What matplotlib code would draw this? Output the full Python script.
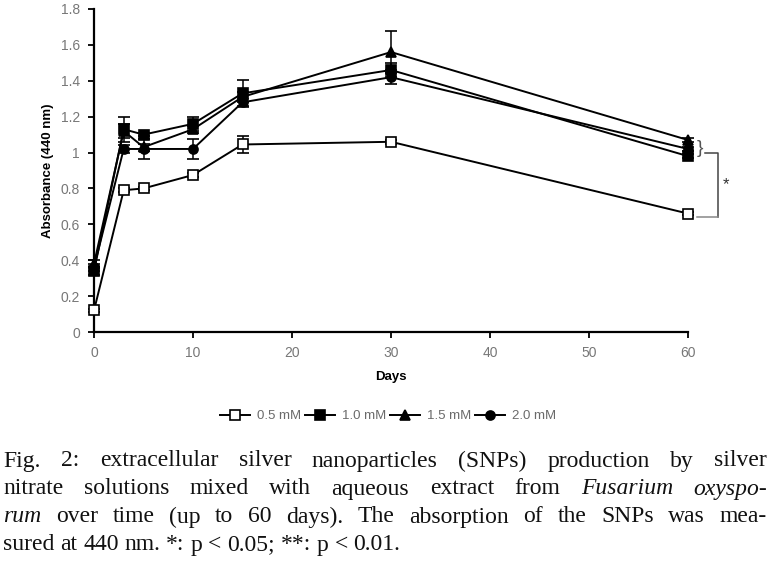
import matplotlib
matplotlib.use("Agg")
import matplotlib.pyplot as plt
from matplotlib.lines import Line2D
from matplotlib.ticker import FuncFormatter

days = [0, 3, 5, 10, 15, 30, 60]

abs_05 = [0.12, 0.79, 0.80, 0.875, 1.045, 1.06, 0.66]
err_05 = [0.01, 0.01, 0.01, 0.01, 0.05, 0.01, 0.01]

abs_10 = [0.34, 1.13, 1.10, 1.16, 1.33, 1.46, 0.98]
err_10 = [0.02, 0.07, 0.01, 0.04, 0.075, 0.04, 0.01]

abs_15 = [0.38, 1.12, 1.03, 1.13, 1.31, 1.56, 1.07]
err_15 = [0.02, 0.04, 0.02, 0.02, 0.03, 0.115, 0.01]

abs_20 = [0.36, 1.02, 1.02, 1.02, 1.28, 1.42, 1.02]
err_20 = [0.02, 0.02, 0.055, 0.055, 0.02, 0.04, 0.01]

labels = ["0.5 mM", "1.0 mM", "1.5 mM", "2.0 mM"]

caption_lines = [
    [("Fig.", False), ("2:", False), ("extracellular", False), ("silver", False),
     ("nanoparticles", False), ("(SNPs)", False), ("production", False),
     ("by", False), ("silver", False)],
    [("nitrate", False), ("solutions", False), ("mixed", False), ("with", False),
     ("aqueous", False), ("extract", False), ("from", False),
     ("Fusarium", True), ("oxyspo-", True)],
    [("rum", True), ("over", False), ("time", False), ("(up", False), ("to", False),
     ("60", False), ("days).", False), ("The", False), ("absorption", False),
     ("of", False), ("the", False), ("SNPs", False), ("was", False), ("mea-", False)],
    [("sured", False), ("at", False), ("440", False), ("nm.", False), ("*:", False),
     ("p", False), ("<", False), ("0.05;", False), ("**:", False), ("p", False),
     ("<", False), ("0.01.", False)],
]

W, H = 771, 573
fig = plt.figure(figsize=(W / 100, H / 100), dpi=100)
plt.rcParams["font.family"] = ["Liberation Sans", "DejaVu Sans"]

ax = fig.add_axes([94 / W, 1 - 332 / H, (688 - 94) / W, (332 - 9) / H])

series = [
    (abs_05, err_05, "s", "white"),
    (abs_10, err_10, "s", "black"),
    (abs_15, err_15, "^", "black"),
    (abs_20, err_20, "o", "black"),
]
handles = []
for (vals, errs, mk, fc), lab in zip(series, labels):
    ax.errorbar(days, vals, yerr=errs, color="black", lw=1.4, marker=mk,
                markersize=6.5, markerfacecolor=fc, markeredgecolor="black",
                markeredgewidth=1.2, capsize=4.5, elinewidth=1.1, capthick=1.1,
                clip_on=False, zorder=3)
    handles.append(Line2D([], [], color="black", lw=1.4, marker=mk, markersize=6.5,
                          markerfacecolor=fc, markeredgecolor="black",
                          markeredgewidth=1.2, label=lab))

ax.set_xlim(0, 60)
ax.set_ylim(0, 1.8)
ax.set_xticks(range(0, 61, 10))
ax.set_yticks([0, 0.2, 0.4, 0.6, 0.8, 1.0, 1.2, 1.4, 1.6, 1.8])
ax.yaxis.set_major_formatter(FuncFormatter(lambda v, p: f"{v:g}"))
for s in ["top", "right"]:
    ax.spines[s].set_visible(False)
for s in ["left", "bottom"]:
    ax.spines[s].set_linewidth(1.6)
ax.tick_params(axis="both", direction="out", length=4, width=1.3,
               labelsize=10, labelcolor="#777777", pad=6)
ax.set_xlabel("Days", fontsize=9.5, fontweight="bold", va="center")
ax.set_ylabel("Absorbance (440 nm)", fontsize=9.5, fontweight="bold", va="center")
ax.xaxis.set_label_coords(0.5, -(377 - 332) / 323, transform=ax.transAxes)
ax.yaxis.set_label_coords((48 - 94) / 594, 0.5, transform=ax.transAxes)

# significance bracket on the right
ax.text(60.85, 1.02, "}", fontsize=14, color="#555555", ha="left", va="center",
        clip_on=False)
ax.plot([61.7, 63.0, 63.0], [1.0, 1.0, 0.64], color="#444444", lw=1.1,
        clip_on=False)
ax.plot([60.9, 63.0], [0.64, 0.64], color="#888888", lw=1.1, clip_on=False)
ax.text(63.5, 0.82, "*", fontsize=12, color="#333333", ha="left", va="center",
        clip_on=False)

fig.legend(handles=handles, loc="center", bbox_to_anchor=(388 / W, 1 - 416 / H),
           ncol=4, frameon=False, fontsize=9.5, labelcolor="#6a6a6a",
           handlelength=2.3, handletextpad=0.5, columnspacing=0.3,
           borderaxespad=0)

# justified caption
renderer = fig.canvas.get_renderer()
x0, x1 = 3, 767
line_y = [461, 489, 517, 545]
cap_size = 17
for i, (words, y) in enumerate(zip(caption_lines, line_y)):
    texts = []
    for w, it in words:
        t = fig.text(0, 1 - y / H, w, fontsize=cap_size,
                     family="Liberation Serif",
                     style="italic" if it else "normal",
                     ha="left", va="center", color="#111111")
        texts.append(t)
    widths = [t.get_window_extent(renderer).width for t in texts]
    if i < len(caption_lines) - 1:
        gap = (x1 - x0 - sum(widths)) / (len(texts) - 1)
    else:
        sp = fig.text(0, 0, "a b", fontsize=cap_size, family="Liberation Serif")
        sp2 = fig.text(0, 0, "ab", fontsize=cap_size, family="Liberation Serif")
        gap = sp.get_window_extent(renderer).width - sp2.get_window_extent(renderer).width
        sp.remove()
        sp2.remove()
    x = x0
    for t, wd in zip(texts, widths):
        t.set_x(x / W)
        x += wd + gap

fig.savefig("out.png", dpi=100)
